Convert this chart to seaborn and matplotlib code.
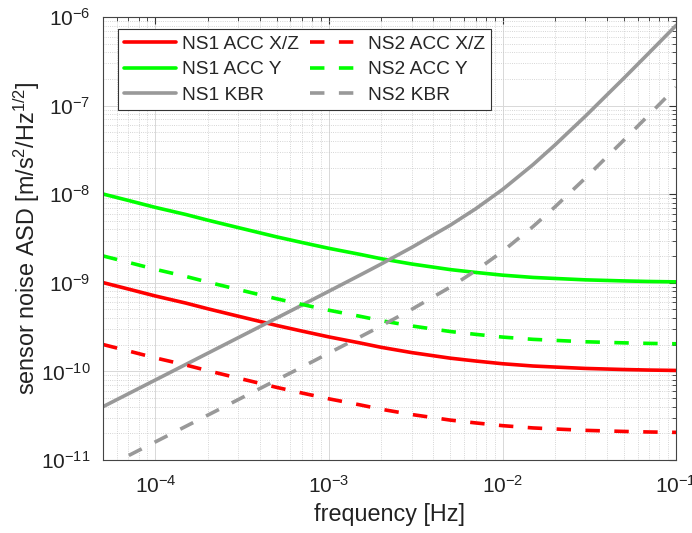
import numpy as np
import pandas as pd
import matplotlib
matplotlib.use('Agg')
import matplotlib.pyplot as plt
import seaborn as sns
from matplotlib.ticker import LogLocator, NullFormatter

freq = [5e-5, 7e-5, 1e-4, 1.5e-4, 2e-4, 3e-4, 5e-4, 7e-4, 1e-3, 1.5e-3, 2e-3,
        3e-3, 5e-3, 7e-3, 1e-2, 1.5e-2, 2e-2, 3e-2, 5e-2, 7e-2, 1e-1]

ns1_acc_xz = [1.005e-9, 8.5e-10, 7.1e-10, 5.9e-10, 5.1e-10, 4.2e-10, 3.3e-10, 2.85e-10,
              2.45e-10, 2.1e-10, 1.87e-10, 1.63e-10, 1.41e-10, 1.31e-10, 1.22e-10,
              1.15e-10, 1.12e-10, 1.08e-10, 1.05e-10, 1.035e-10, 1.025e-10]
ns1_acc_y = [1.005e-8, 8.5e-9, 7.1e-9, 5.9e-9, 5.1e-9, 4.2e-9, 3.3e-9, 2.85e-9,
             2.45e-9, 2.1e-9, 1.87e-9, 1.63e-9, 1.41e-9, 1.31e-9, 1.22e-9,
             1.15e-9, 1.12e-9, 1.08e-9, 1.05e-9, 1.035e-9, 1.025e-9]
ns1_kbr = [4.0e-11, 5.6e-11, 8.0e-11, 1.2e-10, 1.6e-10, 2.4e-10, 4.0e-10, 5.61e-10,
           8.04e-10, 1.213e-9, 1.63e-9, 2.51e-9, 4.47e-9, 6.84e-9, 1.13e-8,
           2.16e-8, 3.58e-8, 7.59e-8, 2.04e-7, 3.96e-7, 8.04e-7]
ns2_acc_xz = [2.01e-10, 1.7e-10, 1.42e-10, 1.18e-10, 1.02e-10, 8.4e-11, 6.6e-11, 5.7e-11,
              4.9e-11, 4.2e-11, 3.74e-11, 3.26e-11, 2.82e-11, 2.62e-11, 2.44e-11,
              2.3e-11, 2.24e-11, 2.16e-11, 2.1e-11, 2.07e-11, 2.05e-11]
ns2_acc_y = [2.01e-9, 1.7e-9, 1.42e-9, 1.18e-9, 1.02e-9, 8.4e-10, 6.6e-10, 5.7e-10,
             4.9e-10, 4.2e-10, 3.74e-10, 3.26e-10, 2.82e-10, 2.62e-10, 2.44e-10,
             2.3e-10, 2.24e-10, 2.16e-10, 2.1e-10, 2.07e-10, 2.05e-10]
ns2_kbr = [8.0e-12, 1.12e-11, 1.6e-11, 2.4e-11, 3.2e-11, 4.8e-11, 8.0e-11, 1.12e-10,
           1.61e-10, 2.43e-10, 3.26e-10, 5.02e-10, 8.94e-10, 1.37e-9, 2.26e-9,
           4.32e-9, 7.16e-9, 1.52e-8, 4.08e-8, 7.92e-8, 1.61e-7]

df = pd.DataFrame({'f': freq,
                   'NS1 ACC X/Z': ns1_acc_xz,
                   'NS1 ACC Y': ns1_acc_y,
                   'NS1 KBR': ns1_kbr,
                   'NS2 ACC X/Z': ns2_acc_xz,
                   'NS2 ACC Y': ns2_acc_y,
                   'NS2 KBR': ns2_kbr,
                   })

sns.set_style('white')
plt.rcParams['font.family'] = ['Liberation Sans', 'DejaVu Sans']
plt.rcParams['mathtext.fontset'] = 'custom'
plt.rcParams['mathtext.rm'] = 'Liberation Sans'
plt.rcParams['mathtext.it'] = 'Liberation Sans'

fig = plt.figure(figsize=(6.92, 5.33), dpi=100)
ax = fig.add_axes([0.149, 0.137, 0.828, 0.831])

series = [('NS1 ACC X/Z', 'red', '-'),
          ('NS1 ACC Y', '#00ff00', '-'),
          ('NS1 KBR', '#999999', '-'),
          ('NS2 ACC X/Z', 'red', '--'),
          ('NS2 ACC Y', '#00ff00', '--'),
          ('NS2 KBR', '#999999', '--')]

for name, col, ls in series:
    kw = {}
    if ls == '--':
        kw['dashes'] = (4, 4)
    sns.lineplot(data=df, x='f', y=name, color=col, linewidth=2.6,
                 label=name, ax=ax, **kw)

ax.set_xscale('log')
ax.set_yscale('log')
ax.set_xlim(5e-5, 1e-1)
ax.set_ylim(1e-11, 1e-6)

ax.xaxis.set_major_locator(LogLocator(base=10, numticks=10))
ax.yaxis.set_major_locator(LogLocator(base=10, numticks=10))
ax.xaxis.set_minor_locator(LogLocator(base=10, subs=np.arange(2, 10), numticks=20))
ax.yaxis.set_minor_locator(LogLocator(base=10, subs=np.arange(2, 10), numticks=20))
ax.xaxis.set_minor_formatter(NullFormatter())
ax.yaxis.set_minor_formatter(NullFormatter())

ax.grid(which='major', color='#d8d8d8', linestyle='-', linewidth=0.7)
ax.grid(which='minor', color='#c8c8c8', linestyle=':', linewidth=0.6)
ax.set_axisbelow(True)

ax.tick_params(which='both', direction='in', top=True, right=True,
               colors='#333333', labelcolor='#222222')
ax.tick_params(which='major', length=5, labelsize=15)
ax.tick_params(which='minor', length=3)
ax.tick_params(axis='x', which='major', pad=11)
ax.tick_params(axis='y', which='major', pad=9)
for s in ax.spines.values():
    s.set_color('#444444')
    s.set_linewidth(0.8)

ax.set_xlabel('frequency [Hz]', fontsize=16.8, color='#222222', labelpad=4)
ax.set_ylabel(r'sensor noise ASD [m/s$^2$/Hz$^{1/2}$]', fontsize=16.8,
              color='#222222', labelpad=-1)

leg = ax.legend(loc='upper left', ncol=2, fontsize=13.8, frameon=True, fancybox=False,
                edgecolor='#333333', framealpha=1, borderpad=0.33,
                handlelength=2.7, columnspacing=0.6, labelspacing=0.42,
                handletextpad=0.3, borderaxespad=0, bbox_to_anchor=(0.026, 0.973))
leg.get_frame().set_linewidth(0.8)

fig.savefig('out.png', dpi=100)
